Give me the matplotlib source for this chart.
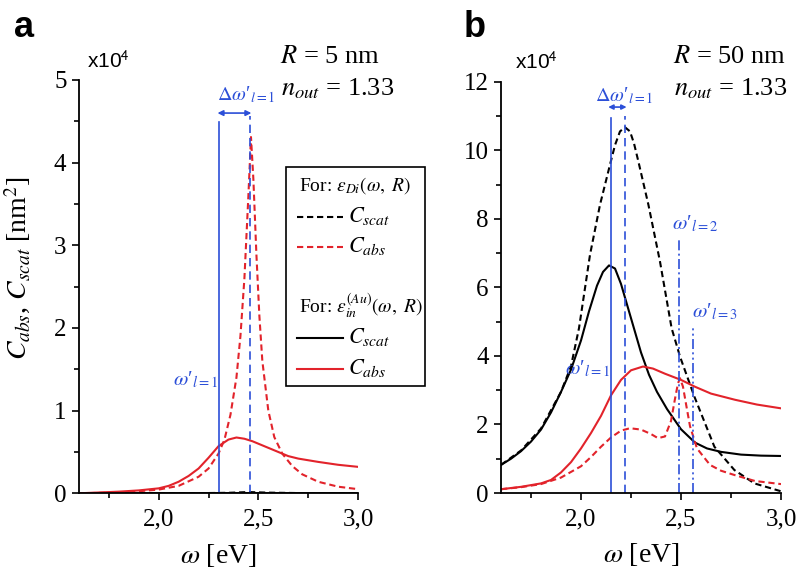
import matplotlib
matplotlib.use("Agg")
import matplotlib.pyplot as plt
from matplotlib.patches import Rectangle
from matplotlib.lines import Line2D

plt.rcParams['font.family'] = ['Liberation Serif', 'DejaVu Serif']
plt.rcParams['mathtext.fontset'] = 'stix'

W, H = 799, 570

# ---- panel a : R = 5 nm ----
a_abs_au_x = [1.60, 1.70, 1.80, 1.90, 2.00, 2.05, 2.10, 2.15, 2.20, 2.25, 2.30, 2.35, 2.39,
              2.43, 2.47, 2.50, 2.55, 2.60, 2.65, 2.70, 2.80, 2.90, 3.00]
a_abs_au_y = [0.0, 0.01, 0.02, 0.035, 0.06, 0.09, 0.14, 0.21, 0.30, 0.43, 0.57, 0.65, 0.675,
              0.66, 0.63, 0.60, 0.55, 0.50, 0.45, 0.42, 0.38, 0.345, 0.32]
a_abs_di_x = [1.60, 1.80, 1.90, 2.00, 2.10, 2.20, 2.25, 2.30, 2.33, 2.36, 2.39, 2.41, 2.43,
              2.45, 2.463, 2.475, 2.49, 2.505, 2.52, 2.55, 2.58, 2.62, 2.67, 2.72, 2.80, 2.90, 3.00]
a_abs_di_y = [0.0, 0.01, 0.025, 0.045, 0.09, 0.2, 0.3, 0.48, 0.65, 0.95, 1.4, 1.9, 2.6,
              3.6, 4.31, 3.8, 2.9, 2.15, 1.6, 1.0, 0.68, 0.48, 0.33, 0.23, 0.14, 0.08, 0.05]
a_sca_di_x = [1.60, 2.20, 2.35, 2.45, 2.55, 2.70, 3.00]
a_sca_di_y = [0.0, 0.002, 0.006, 0.015, 0.008, 0.003, 0.001]
a_sca_au_x = [1.60, 2.20, 2.40, 2.60, 3.00]
a_sca_au_y = [0.0, 0.001, 0.003, 0.002, 0.001]
a_res = [2.305, 2.46]          # omega'_{l=1} (Au), omega'_{l=1} (Di)
a_res_top = [4.49, 4.57]

# ---- panel b : R = 50 nm ----
b_sca_au_x = [1.60, 1.65, 1.70, 1.75, 1.80, 1.85, 1.90, 1.95, 2.00, 2.04, 2.08, 2.11, 2.14,
              2.17, 2.20, 2.23, 2.26, 2.30, 2.34, 2.38, 2.43, 2.50, 2.57, 2.63, 2.70, 2.80,
              2.90, 3.00]
b_sca_au_y = [0.82, 1.0, 1.22, 1.5, 1.85, 2.35, 2.95, 3.6, 4.45, 5.3, 6.05, 6.45, 6.64,
              6.55, 6.1, 5.5, 4.9, 4.1, 3.45, 2.95, 2.45, 1.86, 1.47, 1.3, 1.2, 1.12,
              1.09, 1.08]
b_sca_di_x = [1.60, 1.70, 1.80, 1.90, 1.95, 1.99, 2.045, 2.095, 2.145, 2.17, 2.195, 2.22,
              2.245, 2.265, 2.287, 2.337, 2.395, 2.453, 2.495, 2.567, 2.667, 2.767, 2.867, 3.00]
b_sca_di_y = [0.82, 1.24, 1.88, 2.95, 3.7, 4.81, 6.95, 8.41, 9.58, 10.15, 10.55, 10.67,
              10.55, 10.2, 9.67, 8.41, 6.75, 4.81, 3.98, 2.81, 1.35, 0.67, 0.28, 0.05]
b_abs_au_x = [1.60, 1.70, 1.80, 1.85, 1.90, 1.95, 2.00, 2.05, 2.10, 2.15, 2.20, 2.25, 2.31,
              2.36, 2.42, 2.50, 2.57, 2.65, 2.77, 2.88, 3.00]
b_abs_au_y = [0.11, 0.18, 0.28, 0.38, 0.6, 0.9, 1.3, 1.75, 2.25, 2.85, 3.3, 3.58, 3.69,
              3.63, 3.48, 3.3, 3.1, 2.9, 2.72, 2.58, 2.47]
b_abs_di_x = [1.60, 1.70, 1.80, 1.90, 2.00, 2.05, 2.10, 2.15, 2.20, 2.245, 2.30, 2.35, 2.385,
              2.42, 2.45, 2.47, 2.485, 2.495, 2.51, 2.525, 2.545, 2.58, 2.645, 2.70, 2.77, 2.87, 3.00]
b_abs_di_y = [0.11, 0.17, 0.26, 0.45, 0.78, 1.05, 1.35, 1.62, 1.82, 1.89, 1.85, 1.72, 1.6,
              1.65, 2.1, 2.75, 3.2, 3.35, 3.1, 2.6, 1.95, 1.3, 0.82, 0.65, 0.52, 0.35, 0.26]
b_res = [2.148, 2.22, 2.49, 2.562]   # omega'_{l=1} (Au), (Di), omega'_{l=2}, omega'_{l=3}
b_res_top = [10.95, 11.0, 7.44, 4.9]

xticks = [2.0, 2.5, 3.0]
xticklabels = ['2,0', '2,5', '3,0']
xminor = [1.75, 2.25, 2.75]

blue = '#2c4fd8'
red = '#e2232b'
short_dash = (0, (3, 1.8))
lw = 1.5
SANS = ['Liberation Sans', 'DejaVu Sans']


def P(x, y):
    return (x / W, 1 - y / H)


def wl(n):
    # omega-prime with subscript, prime kept close to the omega
    return r"$\omega$" + "\u2032" + r"$_{l=%d}$" % n


DW = r"$\mathit{\Delta\omega}$" + "\u2032" + r"$_{l=1}$"

fig = plt.figure(figsize=(W / 100, H / 100), dpi=100)
ax_a = fig.add_axes([79 / W, 1 - 493.3 / H, 279 / W, 413.3 / H])
ax_b = fig.add_axes([501 / W, 1 - 493.0 / H, 280 / W, 411.3 / H])

for ax in (ax_a, ax_b):
    for s in ('top', 'right'):
        ax.spines[s].set_visible(False)
    for s in ('left', 'bottom'):
        ax.spines[s].set_linewidth(1.3)
    ax.set_xlim(1.6, 3.0)
    ax.set_xticks(xticks)
    ax.set_xticklabels(xticklabels)
    ax.set_xticks(xminor, minor=True)
    ax.tick_params(which='major', direction='out', length=5, width=1.2, labelsize=18, pad=4)
    ax.tick_params(axis='x', which='major', pad=6)
    ax.tick_params(which='minor', direction='out', length=3.5, width=1.2)
    ax.set_xlabel(r'$\omega$ [eV]', fontsize=20, labelpad=8)

# panel a
ax_a.set_ylim(0, 5)
ax_a.set_yticks(range(0, 6))
ax_a.set_yticks([0.5, 1.5, 2.5, 3.5, 4.5], minor=True)
ax_a.plot(a_sca_au_x, a_sca_au_y, color='black', lw=lw)
ax_a.plot(a_sca_di_x, a_sca_di_y, color='black', lw=lw, ls=short_dash)
ax_a.plot(a_abs_au_x, a_abs_au_y, color=red, lw=lw)
ax_a.plot(a_abs_di_x, a_abs_di_y, color=red, lw=lw, ls=short_dash)
ax_a.plot([a_res[0]] * 2, [0, a_res_top[0]], color=blue, lw=1.2)
ax_a.plot([a_res[1]] * 2, [0, a_res_top[1]], color=blue, lw=1.2, ls=(0, (5, 3)))
ax_a.annotate('', xy=(a_res[0] - 0.01, 4.6), xytext=(a_res[1] + 0.005, 4.6),
              arrowprops=dict(arrowstyle='<|-|>', color=blue, lw=1.2,
                              mutation_scale=8, shrinkA=0, shrinkB=0))
ax_a.text(2.29, 4.76, DW, color=blue, fontsize=14.5, ha='left', va='baseline')
ax_a.text(2.298, 1.31, wl(1), color=blue, fontsize=15, ha='right', va='baseline')

# panel b
ax_b.set_ylim(0, 12)
ax_b.set_yticks(range(0, 13, 2))
ax_b.set_yticks(range(1, 12, 2), minor=True)
ax_b.plot(b_sca_au_x, b_sca_au_y, color='black', lw=lw)
ax_b.plot(b_sca_di_x, b_sca_di_y, color='black', lw=lw, ls=short_dash)
ax_b.plot(b_abs_au_x, b_abs_au_y, color=red, lw=lw)
ax_b.plot(b_abs_di_x, b_abs_di_y, color=red, lw=lw, ls=short_dash)
b_styles = ['-', (0, (5, 3)), (0, (6, 2, 1.2, 2)), (0, (6, 2, 1.2, 2, 1.2, 2))]
for xr, top, st in zip(b_res, b_res_top, b_styles):
    ax_b.plot([xr, xr], [0, top], color=blue, lw=1.2, ls=st)
ax_b.annotate('', xy=(b_res[0] - 0.012, 11.26), xytext=(b_res[1] + 0.008, 11.26),
              arrowprops=dict(arrowstyle='<|-|>', color=blue, lw=1.2,
                              mutation_scale=7, shrinkA=0, shrinkB=0))
ax_b.text(2.07, 11.42, DW, color=blue, fontsize=14.5, ha='left', va='baseline')
ax_b.text(2.455, 7.68, wl(2), color=blue, fontsize=15, ha='left', va='baseline')
ax_b.text(2.555, 5.14, wl(3), color=blue, fontsize=15, ha='left', va='baseline')
ax_b.text(2.145, 3.45, wl(1), color=blue, fontsize=15, ha='right', va='baseline')

# y label and multipliers
fig.text(*P(18, 268), r'$C_{abs}$, $C_{scat}$ [nm$^2$]', rotation=90, fontsize=20,
         ha='center', va='center')
fig.text(*P(87, 68), r'x10$^{\mathsf{4}}$', family=SANS, fontsize=15, ha='left', va='baseline')
fig.text(*P(515, 69), r'x10$^{\mathsf{4}}$', family=SANS, fontsize=15, ha='left', va='baseline')
fig.text(*P(14, 37), 'a', family=SANS, fontsize=26, fontweight='bold', ha='left', va='baseline')
fig.text(*P(464, 37), 'b', family=SANS, fontsize=26, fontweight='bold', ha='left', va='baseline')

# parameters
fig.text(*P(280, 63), r'$R$ = 5 nm', fontsize=19, ha='left', va='baseline')
fig.text(*P(281, 95), r'$n_{out}$ = 1.33', fontsize=19, ha='left', va='baseline')
fig.text(*P(673, 63), r'$R$ = 50 nm', fontsize=19, ha='left', va='baseline')
fig.text(*P(674, 95), r'$n_{out}$ = 1.33', fontsize=19, ha='left', va='baseline')

# legend box
x0, y0 = P(286, 386)
x1, y1 = P(425, 167)
fig.patches.append(Rectangle((x0, y0), x1 - x0, y1 - y0, transform=fig.transFigure,
                             fill=True, facecolor='white', edgecolor='black', lw=1.2,
                             zorder=5))
fig.text(*P(299, 191), r'For: $\varepsilon_{Di}(\omega,\ R)$', fontsize=14,
         ha='left', va='baseline', zorder=6)
fig.text(*P(299, 313), r'For: $\varepsilon_{in}^{(Au)}(\omega,\ R)$', fontsize=14,
         ha='left', va='baseline', zorder=6)
leg_rows = [(217, 'black', short_dash, r'$C_{scat}$'),
            (247, red, short_dash, r'$C_{abs}$'),
            (338, 'black', '-', r'$C_{scat}$'),
            (369, red, '-', r'$C_{abs}$')]
for yy, c, st, lab in leg_rows:
    xa, ya = P(297, yy)
    xb, _ = P(343, yy)
    fig.add_artist(Line2D([xa, xb], [ya, ya], transform=fig.transFigure, color=c,
                          lw=lw, ls=st, zorder=6))
    fig.text(*P(348, yy + 5), lab, fontsize=16, ha='left', va='baseline', zorder=6)

fig.savefig('out.png', dpi=100)
